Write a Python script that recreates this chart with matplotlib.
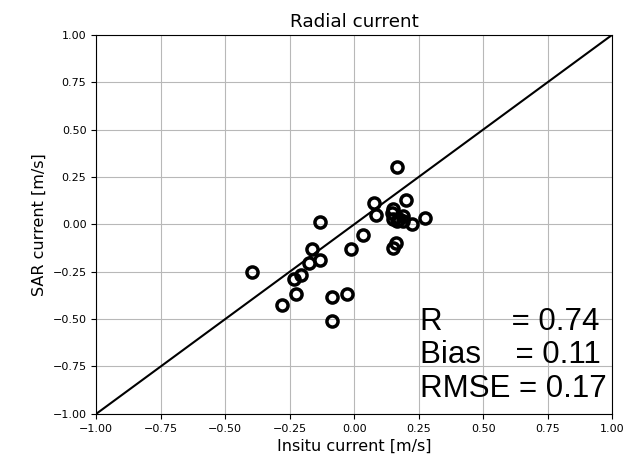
import numpy as np
import matplotlib
matplotlib.use('Agg')
import matplotlib.pyplot as plt

# in-situ vs SAR radial current [m/s]
insitu = [0.165, 0.075, 0.200, 0.085, 0.152, 0.152, 0.191, 0.165, 0.191, 0.224,
          0.275, 0.145, 0.175, -0.132, 0.036, 0.162, 0.152, -0.013, -0.164, -0.134,
          -0.174, -0.395, -0.207, -0.235, -0.226, -0.280, -0.086, -0.028, -0.084]
sar = [0.304, 0.111, 0.128, 0.049, 0.079, 0.026, 0.044, 0.017, 0.017, 0.000,
       0.032, 0.060, 0.030, 0.014, -0.058, -0.100, -0.123, -0.128, -0.132, -0.190,
       -0.202, -0.253, -0.269, -0.287, -0.369, -0.426, -0.384, -0.369, -0.512]

stats_names = ['R', 'Bias', 'RMSE']
stats_values = [0.74, 0.11, 0.17]
stats_pad = ['        ', '    ', ' ']

fig = plt.figure(figsize=(6.33, 4.65), dpi=100)
ax = fig.add_axes([0.152, 0.110, 0.815, 0.815])

ax.grid(True, color='#b8b8b8', linewidth=0.8, zorder=0)
ax.plot([-1, 1], [-1, 1], color='black', linewidth=1.5, zorder=2)
ax.plot(insitu, sar, linestyle='none', marker='o', markersize=8,
        markerfacecolor='none', markeredgecolor='black', markeredgewidth=2.5, zorder=3)

txt = '\n'.join('%s%s= %.2f' % (n, p, v) for n, p, v in zip(stats_names, stats_pad, stats_values))
ax.text(0.255, -0.95, txt, fontsize=22.5, family='Liberation Sans',
        ha='left', va='bottom', linespacing=1.17, zorder=4)

ax.set_xlim(-1, 1)
ax.set_ylim(-1, 1)
ticks = np.arange(-1, 1.01, 0.25)
ax.set_xticks(ticks)
ax.set_yticks(ticks)
ax.tick_params(labelsize=8)
ax.set_xlabel('Insitu current [m/s]', fontsize=11.5)
ax.set_ylabel('SAR current [m/s]', fontsize=11.5)
ax.set_title('Radial current', fontsize=13.2)

fig.savefig('out.png', dpi=100)
